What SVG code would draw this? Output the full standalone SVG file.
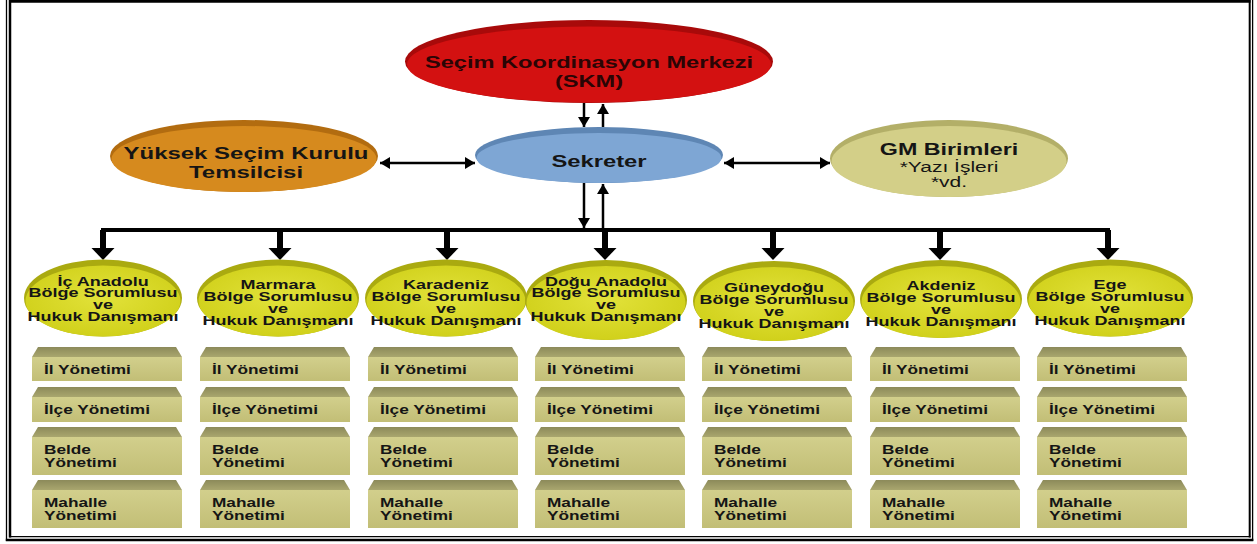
<svg xmlns="http://www.w3.org/2000/svg" width="1257" height="544" viewBox="0 0 1257 544">
<defs>
<marker id="ah" viewBox="0 0 10 12" refX="10" refY="6" markerWidth="10" markerHeight="12" markerUnits="userSpaceOnUse" orient="auto-start-reverse">
<path d="M0,0 L10,6 L0,12 z" fill="#000"/>
</marker>
<linearGradient id="boxFace" x1="0" y1="0" x2="0" y2="1">
<stop offset="0" stop-color="#D2CF8C"/><stop offset="1" stop-color="#C2BE76"/>
</linearGradient>
<linearGradient id="boxTop" x1="0" y1="0" x2="0" y2="1">
<stop offset="0" stop-color="#8C8A5A"/><stop offset="1" stop-color="#A9A66E"/>
</linearGradient>
<radialGradient id="regFace" cx="0.5" cy="0.45" r="0.6">
<stop offset="0" stop-color="#E2E23A"/><stop offset="1" stop-color="#CFCF18"/>
</radialGradient>
</defs>
<style>
.t{font-family:"Liberation Sans",Arial,sans-serif;font-weight:bold;fill:#151515}
.tr{font-family:"Liberation Sans",Arial,sans-serif;font-weight:normal;fill:#151515}
.big{font-size:17px}
.reg{font-size:12px}
.bx{font-size:12.5px}
.cn{stroke:#000;stroke-width:2.5;fill:none}
.rimR{fill:#A80A0A}.faceR{fill:#D31111}
.rimO{fill:#B26C10}.faceO{fill:#D68A1E}
.rimB{fill:#5E86B4}.faceB{fill:#7EA6D4}
.rimG{fill:#B3AF68}.faceG{fill:#D3CF88}
.rimY{fill:#AAAA10}
</style>

<g id="frame" stroke="#000" fill="none">
<line x1="10" y1="0" x2="10" y2="537.5" stroke-width="2.5"/>
<line x1="1249.7" y1="0" x2="1249.7" y2="537.5" stroke-width="2"/>
<line x1="9" y1="1.3" x2="1250.5" y2="1.3" stroke-width="2.7"/>
<line x1="9" y1="536.6" x2="1250.5" y2="536.6" stroke-width="1.3"/>
<line x1="6.5" y1="0" x2="6.5" y2="541" stroke-width="1.3"/>
<line x1="1252.6" y1="0" x2="1252.6" y2="541" stroke-width="1.3"/>
<line x1="5.8" y1="540" x2="1253.3" y2="540" stroke-width="2.5"/>
</g>

<g id="connectors">
<line class="cn" x1="584" y1="103" x2="584" y2="127" marker-end="url(#ah)"/>
<line class="cn" x1="603" y1="127" x2="603" y2="104" marker-end="url(#ah)"/>
<line class="cn" x1="380" y1="163" x2="475" y2="163" marker-start="url(#ah)" marker-end="url(#ah)"/>
<line class="cn" x1="724" y1="163" x2="830" y2="163" marker-start="url(#ah)" marker-end="url(#ah)"/>
<line class="cn" x1="584" y1="183" x2="584" y2="228" marker-end="url(#ah)"/>
<line class="cn" x1="603" y1="230" x2="603" y2="184" marker-end="url(#ah)"/>
<path d="M103,249 V230 H1108 V249" stroke="#000" stroke-width="4" fill="none"/>
<g fill="#000">
<rect x="100" y="230" width="6" height="19"/><polygon points="91.5,248 114.5,248 103,260"/>
<rect x="277" y="230" width="6" height="19"/><polygon points="268.5,248 291.5,248 280,260"/>
<rect x="444" y="230" width="6" height="19"/><polygon points="435.5,248 458.5,248 447,260"/>
<rect x="602" y="230" width="6" height="19"/><polygon points="593.5,248 616.5,248 605,260"/>
<rect x="770" y="230" width="6" height="19"/><polygon points="761.5,248 784.5,248 773,260"/>
<rect x="937" y="230" width="6" height="19"/><polygon points="928.5,248 951.5,248 940,260"/>
<rect x="1105" y="230" width="6" height="19"/><polygon points="1096.5,248 1119.5,248 1108,260"/>
</g>
</g>

<g id="skm">
<ellipse class="rimR" cx="589" cy="61.5" rx="184" ry="41.5"/>
<ellipse class="faceR" cx="589" cy="64.5" rx="182" ry="38"/>
<text class="t big" text-anchor="middle" transform="translate(589,67.5) scale(1.39,1)" style="fill:#2a0505"><tspan x="0" y="0">Seçim Koordinasyon Merkezi</tspan><tspan x="0" y="19.5">(SKM)</tspan></text>
</g>

<g id="ysk">
<ellipse class="rimO" cx="244" cy="156" rx="134" ry="36"/>
<ellipse class="faceO" cx="244" cy="159" rx="132.5" ry="33"/>
<text class="t big" text-anchor="middle" transform="translate(246,158.5) scale(1.41,1)"><tspan x="0" y="0">Yüksek Seçim Kurulu</tspan><tspan x="0" y="19.5">Temsilcisi</tspan></text>
</g>

<g id="sekreter">
<ellipse class="rimB" cx="599" cy="155" rx="124" ry="28"/>
<ellipse class="faceB" cx="599" cy="158" rx="122.5" ry="25"/>
<text class="t big" text-anchor="middle" transform="translate(599,167) scale(1.4,1)">Sekreter</text>
</g>

<g id="gm">
<ellipse class="rimG" cx="949" cy="158.5" rx="119" ry="38.5"/>
<ellipse class="faceG" cx="949" cy="161.5" rx="117.5" ry="35.5"/>
<text class="t big" text-anchor="middle" transform="translate(949,154.5) scale(1.37,1)">GM Birimleri</text>
<text class="tr" font-size="15" text-anchor="middle" transform="translate(949,171.5) scale(1.4,1)"><tspan x="0" y="0">*Yazı İşleri</tspan><tspan x="0" y="16">*vd.</tspan></text>
</g>

<g id="r1">
<ellipse class="rimY" cx="103" cy="298" rx="79" ry="38.5"/>
<ellipse cx="103" cy="301" rx="77.5" ry="35.5" fill="url(#regFace)"/>
<text class="t reg" text-anchor="middle" transform="translate(103,285.5) scale(1.5,1)"><tspan x="0" y="0">İç Anadolu</tspan><tspan x="0" y="12">Bölge Sorumlusu</tspan><tspan x="0" y="24">ve</tspan><tspan x="0" y="36">Hukuk Danışmanı</tspan></text>
</g>
<g id="r2">
<ellipse class="rimY" cx="278" cy="298" rx="81" ry="38.5"/>
<ellipse cx="278" cy="301" rx="79.5" ry="35.5" fill="url(#regFace)"/>
<text class="t reg" text-anchor="middle" transform="translate(278,289) scale(1.5,1)"><tspan x="0" y="0">Marmara</tspan><tspan x="0" y="12">Bölge Sorumlusu</tspan><tspan x="0" y="24">ve</tspan><tspan x="0" y="36">Hukuk Danışmanı</tspan></text>
</g>
<g id="r3">
<ellipse class="rimY" cx="446" cy="298" rx="81" ry="38.5"/>
<ellipse cx="446" cy="301" rx="79.5" ry="35.5" fill="url(#regFace)"/>
<text class="t reg" text-anchor="middle" transform="translate(446,289) scale(1.5,1)"><tspan x="0" y="0">Karadeniz</tspan><tspan x="0" y="12">Bölge Sorumlusu</tspan><tspan x="0" y="24">ve</tspan><tspan x="0" y="36">Hukuk Danışmanı</tspan></text>
</g>
<g id="r4">
<ellipse class="rimY" cx="606" cy="300" rx="81" ry="40"/>
<ellipse cx="606" cy="303" rx="79.5" ry="37" fill="url(#regFace)"/>
<text class="t reg" text-anchor="middle" transform="translate(606,285.5) scale(1.5,1)"><tspan x="0" y="0">Doğu Anadolu</tspan><tspan x="0" y="12">Bölge Sorumlusu</tspan><tspan x="0" y="24">ve</tspan><tspan x="0" y="36">Hukuk Danışmanı</tspan></text>
</g>
<g id="r5">
<ellipse class="rimY" cx="774" cy="301" rx="81" ry="40"/>
<ellipse cx="774" cy="304" rx="79.5" ry="37" fill="url(#regFace)"/>
<text class="t reg" text-anchor="middle" transform="translate(774,292) scale(1.5,1)"><tspan x="0" y="0">Güneydoğu</tspan><tspan x="0" y="12">Bölge Sorumlusu</tspan><tspan x="0" y="24">ve</tspan><tspan x="0" y="36">Hukuk Danışmanı</tspan></text>
</g>
<g id="r6">
<ellipse class="rimY" cx="941" cy="299" rx="81" ry="39"/>
<ellipse cx="941" cy="302" rx="79.5" ry="36" fill="url(#regFace)"/>
<text class="t reg" text-anchor="middle" transform="translate(941,290) scale(1.5,1)"><tspan x="0" y="0">Akdeniz</tspan><tspan x="0" y="12">Bölge Sorumlusu</tspan><tspan x="0" y="24">ve</tspan><tspan x="0" y="36">Hukuk Danışmanı</tspan></text>
</g>
<g id="r7">
<ellipse class="rimY" cx="1110" cy="298" rx="83" ry="38.5"/>
<ellipse cx="1110" cy="301" rx="81.5" ry="35.5" fill="url(#regFace)"/>
<text class="t reg" text-anchor="middle" transform="translate(1110,289) scale(1.5,1)"><tspan x="0" y="0">Ege</tspan><tspan x="0" y="12">Bölge Sorumlusu</tspan><tspan x="0" y="24">ve</tspan><tspan x="0" y="36">Hukuk Danışmanı</tspan></text>
</g>

<defs>
<g id="stack">
<g>
<polygon points="6,347 144,347 150,357 0,357" fill="url(#boxTop)"/>
<rect x="0" y="357" width="150" height="24" fill="url(#boxFace)"/>
<text class="t bx" transform="translate(12,374) scale(1.38,1)">İl Yönetimi</text>
</g>
<g>
<polygon points="6,387 144,387 150,397 0,397" fill="url(#boxTop)"/>
<rect x="0" y="397" width="150" height="25" fill="url(#boxFace)"/>
<text class="t bx" transform="translate(12,413.5) scale(1.38,1)">İlçe Yönetimi</text>
</g>
<g>
<polygon points="6,427 144,427 150,437 0,437" fill="url(#boxTop)"/>
<rect x="0" y="437" width="150" height="38" fill="url(#boxFace)"/>
<text class="t bx" transform="translate(12,453.5) scale(1.38,1)"><tspan x="0" y="0">Belde</tspan><tspan x="0" y="14">Yönetimi</tspan></text>
</g>
<g>
<polygon points="6,480 144,480 150,490 0,490" fill="url(#boxTop)"/>
<rect x="0" y="490" width="150" height="38" fill="url(#boxFace)"/>
<text class="t bx" transform="translate(12,507) scale(1.38,1)"><tspan x="0" y="0">Mahalle</tspan><tspan x="0" y="13.5">Yönetimi</tspan></text>
</g>
</g>
</defs>
<g id="levels1"><use href="#stack" x="32"/></g>
<g id="levels2"><use href="#stack" x="200"/></g>
<g id="levels3"><use href="#stack" x="368"/></g>
<g id="levels4"><use href="#stack" x="535"/></g>
<g id="levels5"><use href="#stack" x="702"/></g>
<g id="levels6"><use href="#stack" x="870"/></g>
<g id="levels7"><use href="#stack" x="1037"/></g>
</svg>
